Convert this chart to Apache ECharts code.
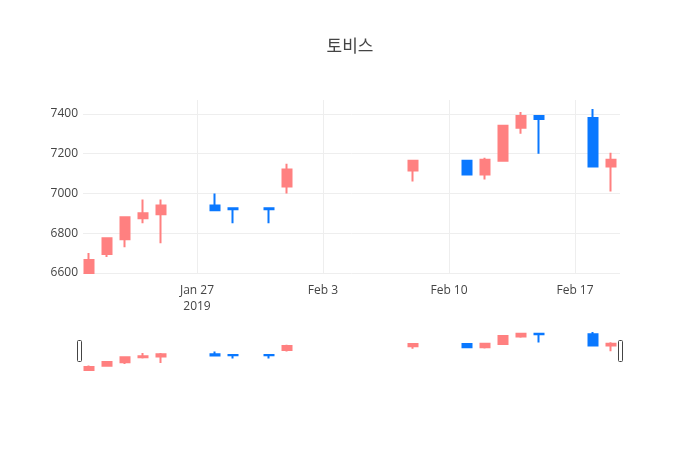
<!DOCTYPE html>
<html>
<head>
<meta charset="utf-8">
<script src="https://cdn.jsdelivr.net/npm/echarts@6/dist/echarts.min.js"></script>
<style>
  html, body { margin: 0; padding: 0; background: #fff; }
  #chart { width: 700px; height: 450px; }
</style>
</head>
<body>
<div id="chart"></div>
<script>
// 일별 시세 (읽어낸 값)
const dates = ['2019-01-21', '2019-01-22', '2019-01-23', '2019-01-24', '2019-01-25',
  '2019-01-28', '2019-01-29', '2019-01-31', '2019-02-01', '2019-02-08',
  '2019-02-11', '2019-02-12', '2019-02-13', '2019-02-14', '2019-02-15',
  '2019-02-18', '2019-02-19'];
const openPrices = [6600, 6695, 6770, 6875, 6895, 6940, 6925, 6925, 7035, 7115, 7165, 7095, 7165, 7330, 7390, 7380, 7135];
const closePrices = [6665, 6775, 6880, 6900, 6940, 6915, 6920, 6920, 7120, 7165, 7095, 7170, 7340, 7390, 7375, 7135, 7170];
const lowPrices = [6600, 6680, 6730, 6850, 6750, 6910, 6850, 6850, 7000, 7060, 7090, 7070, 7165, 7300, 7200, 7135, 7010];
const highPrices = [6700, 6775, 6880, 6970, 6970, 7000, 6925, 6925, 7150, 7165, 7165, 7180, 7345, 7410, 7390, 7425, 7205];

// x 축 눈금
const tickDates = ['2019-01-27', '2019-02-03', '2019-02-10', '2019-02-17'];
const tickLabels = ['Jan 27\n2019', 'Feb 3', 'Feb 10', 'Feb 17'];

const UP = '#ff8080';
const DOWN = '#0a78ff';
const BASE = Date.UTC(2019, 0, 27);
const toHours = d => (Date.parse(d + 'T00:00:00Z') - BASE) / 3600000;

const candleData = dates.map((d, i) => [toHours(d), openPrices[i], closePrices[i], lowPrices[i], highPrices[i]]);
const tickValues = tickDates.map(toHours);

const xRange = { min: -152, max: 564 };

const chart = echarts.init(document.getElementById('chart'));

const option = {
  animation: false,
  backgroundColor: '#fff',
  title: {
    text: '토비스',
    left: 'center',
    top: 32,
    textStyle: { fontFamily: 'Noto Sans CJK KR', fontSize: 17, fontWeight: 'normal', color: '#444' }
  },
  grid: [
    { left: 83, right: 80, top: 100, bottom: 177 },
    { left: 83, right: 80, top: 330, height: 40 }
  ],
  xAxis: [
    {
      type: 'value', gridIndex: 0, min: xRange.min, max: xRange.max,
      axisLine: { show: false }, axisTick: { show: false }, splitLine: { show: false },
      axisLabel: {
        customValues: tickValues,
        margin: 10,
        lineHeight: 16,
        fontFamily: 'Open Sans', fontSize: 12, color: '#444',
        formatter: v => {
          const i = tickValues.indexOf(v);
          return i >= 0 ? tickLabels[i] : '';
        }
      }
    },
    {
      type: 'value', gridIndex: 1, min: xRange.min, max: xRange.max, show: false
    }
  ],
  yAxis: [
    {
      type: 'value', gridIndex: 0, min: 6600, max: 7470, interval: 200,
      axisLine: { show: false }, axisTick: { show: false },
      splitLine: { showMaxLine: false, lineStyle: { color: '#eee', width: 1 } },
      axisLabel: {
        showMaxLabel: false, margin: 5,
        fontFamily: 'Open Sans', fontSize: 12, color: '#444',
        formatter: v => String(v)
      }
    },
    {
      type: 'value', gridIndex: 1, min: 6600, max: 7470, show: false
    }
  ],
  graphic: [
    { type: 'rect', left: 77, top: 340, shape: { width: 4, height: 21, r: 1 }, style: { fill: '#fff', stroke: '#444', lineWidth: 1 } },
    { type: 'rect', left: 618, top: 340, shape: { width: 4, height: 21, r: 1 }, style: { fill: '#fff', stroke: '#444', lineWidth: 1 } }
  ],
  series: [
    {
      name: '토비스',
      type: 'candlestick',
      xAxisIndex: 0, yAxisIndex: 0,
      encode: { x: 0, y: [1, 2, 3, 4] },
      barWidth: 9,
      itemStyle: { color: UP, color0: DOWN, borderColor: UP, borderColor0: DOWN, borderWidth: 2 },
      data: candleData,
      markLine: {
        silent: true,
        symbol: ['none', 'none'],
        label: { show: false },
        lineStyle: { color: '#eee', type: 'solid', width: 1 },
        data: tickValues.map(v => ({ xAxis: v }))
      }
    },
    {
      type: 'candlestick',
      xAxisIndex: 1, yAxisIndex: 1,
      encode: { x: 0, y: [1, 2, 3, 4] },
      barWidth: 9,
      silent: true,
      itemStyle: { color: UP, color0: DOWN, borderColor: UP, borderColor0: DOWN, borderWidth: 2 },
      data: candleData
    }
  ]
};

chart.setOption(option);
</script>
</body>
</html>
